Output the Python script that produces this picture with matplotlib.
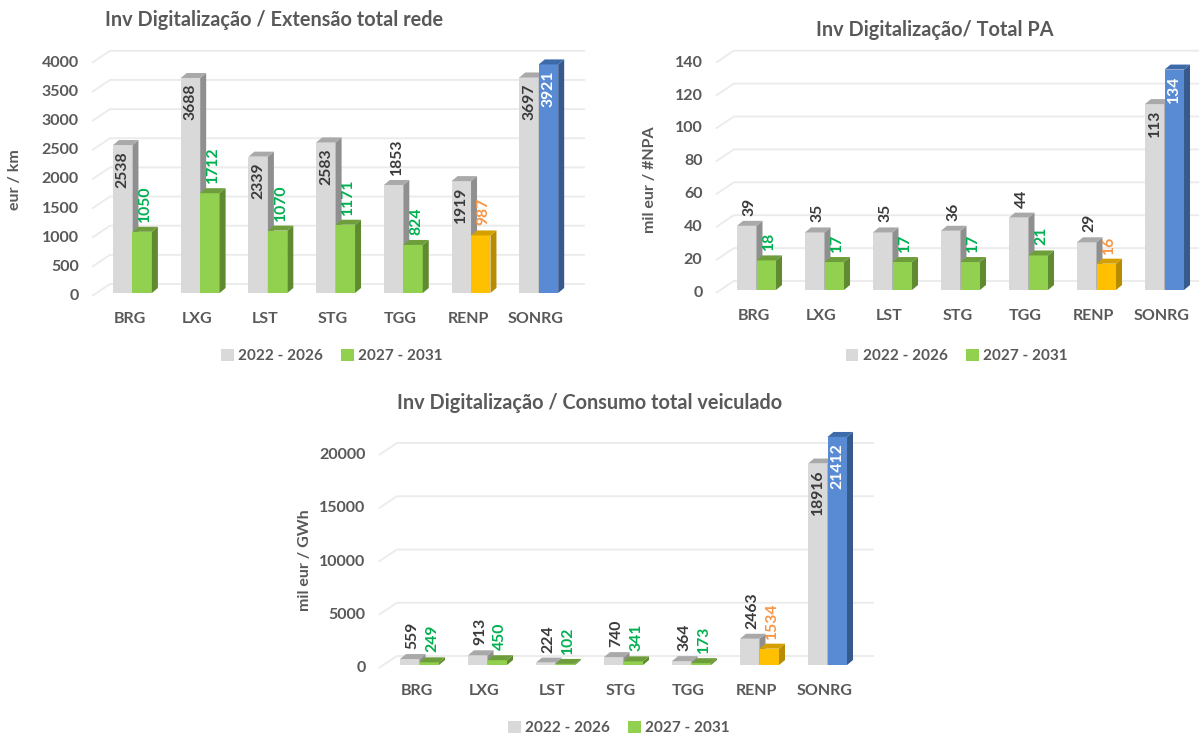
import matplotlib
matplotlib.use("Agg")
import matplotlib.pyplot as plt
from matplotlib.patches import Polygon, Patch

plt.rcParams['font.family'] = ['Lato', 'DejaVu Sans']

W, H = 1199, 737

# Dados
CATEGORIAS = ["BRG", "LXG", "LST", "STG", "TGG", "RENP", "SONRG"]
PERIODOS = ["2022 - 2026", "2027 - 2031"]

EXT_2022 = [2538, 3688, 2339, 2583, 1853, 1919, 3697]
EXT_2027 = [1050, 1712, 1070, 1171, 824, 987, 3921]
EXT_TICKS = [0, 500, 1000, 1500, 2000, 2500, 3000, 3500, 4000]

PA_2022 = [39, 35, 35, 36, 44, 29, 113]
PA_2027 = [18, 17, 17, 17, 21, 16, 134]
PA_TICKS = [0, 20, 40, 60, 80, 100, 120, 140]

CONS_2022 = [559, 913, 224, 740, 364, 2463, 18916]
CONS_2027 = [249, 450, 102, 341, 173, 1534, 21412]
CONS_TICKS = [0, 5000, 10000, 15000, 20000]

# Cores (frente, lado, topo)
CORES = {
    "cinza": ("#d9d9d9", "#8f8f8f", "#a9a9a9"),
    "verde": ("#92d050", "#5f8a30", "#6e9e3c"),
    "laranja": ("#ffc000", "#b88c00", "#d4a000"),
    "azul": ("#598bd4", "#365a8e", "#3d6aa8"),
}
COR_2027 = ["verde", "verde", "verde", "verde", "verde", "laranja", "azul"]
COR_ROTULO = {"cinza": "#3a3a3a", "verde": "#00b050", "laranja": "#f79646", "azul": "white"}
COR_TEXTO = "#595959"

BW = 0.287          # largura de cada coluna (unid. de categoria)
PROF_X, PROF_Y = 6, 5  # profundidade das colunas em px

fig = plt.figure(figsize=(W / 100, H / 100), dpi=100)


def fpos(x, y):
    return x / W, 1 - y / H


def coluna(ax, x0, h, cor, sx, sy, z):
    frente, lado, topo = CORES[cor]
    dx, dy = PROF_X / sx, PROF_Y / sy
    x1 = x0 + BW
    ax.bar(x0, h, width=BW, align="edge", color=frente, zorder=z, clip_on=False)
    ax.add_patch(Polygon([(x1, 0), (x1 + dx, dy), (x1 + dx, h + dy), (x1, h)],
                         closed=True, facecolor=lado, edgecolor="none", zorder=z, clip_on=False))
    ax.add_patch(Polygon([(x0, h), (x0 + dx, h + dy), (x1 + dx, h + dy), (x1, h)],
                         closed=True, facecolor=topo, edgecolor="none", zorder=z, clip_on=False))


def rotulo(ax, xc, h, texto, cor, dentro, sx, sy, z):
    if dentro:
        ax.text(xc, h - 6 / sy, texto, rotation=90, ha="center", va="top",
                fontsize=11.3, fontweight="bold", color=cor, zorder=z)
    else:
        ax.text(xc + 3 / sx, h + 10 / sy, texto, rotation=90, ha="center", va="bottom",
                fontsize=11.3, fontweight="bold", color=cor, zorder=z)


def grafico(left, base, width, height, ticks, v2022, v2027, titulo, titulo_xy,
            ylabel, ylabel_xy, legenda_xy, dentro_cinza, dentro_cor):
    ymax = ticks[-1]
    ax = fig.add_axes([left / W, (H - base) / H, width / W, height / H])
    ax.set_xlim(-0.5, 6.5)
    ax.set_ylim(0, ymax)
    ax.axis("off")
    sx = width / 7.0
    sy = height / ymax

    # grelha na parede do fundo
    xf = -0.5 - 6.6 / sx
    xb = -0.5 + 11.4 / sx
    xe = 6.5 + 12.4 / sx
    for v in ticks:
        yf = v - 3 / sy
        yb = v + 9 / sy
        ax.plot([xf, xb, xe], [yf, yb, yb], color="#ebebeb", lw=1.3,
                clip_on=False, zorder=0, solid_capstyle="butt")
        ax.text(-0.5 - 20 / sx, yf, f"{v}", ha="right", va="center",
                fontsize=11.5, fontweight="bold", color=COR_TEXTO)

    for i, nome in enumerate(CATEGORIAS):
        z = 2 + i * 2
        coluna(ax, i - BW, v2022[i], "cinza", sx, sy, z)
        coluna(ax, i, v2027[i], COR_2027[i], sx, sy, z + 1)
        rotulo(ax, i - BW / 2, v2022[i], f"{v2022[i]}", COR_ROTULO["cinza"],
               i in dentro_cinza, sx, sy, 40)
        rotulo(ax, i + BW / 2, v2027[i], f"{v2027[i]}", COR_ROTULO[COR_2027[i]],
               i in dentro_cor, sx, sy, 40)
        ax.text(i - 3 / sx, -26 / sy, nome, ha="center", va="center",
                fontsize=11.5, fontweight="bold", color=COR_TEXTO)

    fig.text(*fpos(*titulo_xy), titulo, ha="center", va="center",
             fontsize=14.3, fontweight="bold", color=COR_TEXTO)
    fig.text(*fpos(*ylabel_xy), ylabel, ha="center", va="center", rotation=90,
             fontsize=11.5, fontweight="bold", color=COR_TEXTO)

    handles = [Patch(facecolor=CORES["cinza"][0], label=PERIODOS[0]),
               Patch(facecolor=CORES["verde"][0], label=PERIODOS[1])]
    fig.legend(handles=handles, loc="center", bbox_to_anchor=fpos(*legenda_xy),
               ncol=2, frameon=False, handlelength=0.8, handleheight=0.8,
               handletextpad=0.3, columnspacing=1.2, fontsize=11,
               labelcolor=COR_TEXTO, prop={"weight": "bold", "size": 11})
    return ax


grafico(98.6, 293, 474, 233.2, EXT_TICKS, EXT_2022, EXT_2027,
        "Inv Digitalização / Extensão total rede", (274, 20),
        "eur / km", (15, 180), (332, 356),
        dentro_cinza=[0, 1, 2, 3, 5, 6], dentro_cor=[6])

grafico(722.5, 290, 476, 230.3, PA_TICKS, PA_2022, PA_2027,
        "Inv Digitalização/ Total PA", (935, 30),
        "mil eur / #NPA", (650, 180), (957, 356),
        dentro_cinza=[6], dentro_cor=[6])

grafico(385.5, 665, 476, 213, CONS_TICKS, CONS_2022, CONS_2027,
        "Inv Digitalização / Consumo total veiculado", (590, 403),
        "mil eur / GWh", (305, 560), (619, 728),
        dentro_cinza=[6], dentro_cor=[6])

fig.savefig("out.png", dpi=100)
